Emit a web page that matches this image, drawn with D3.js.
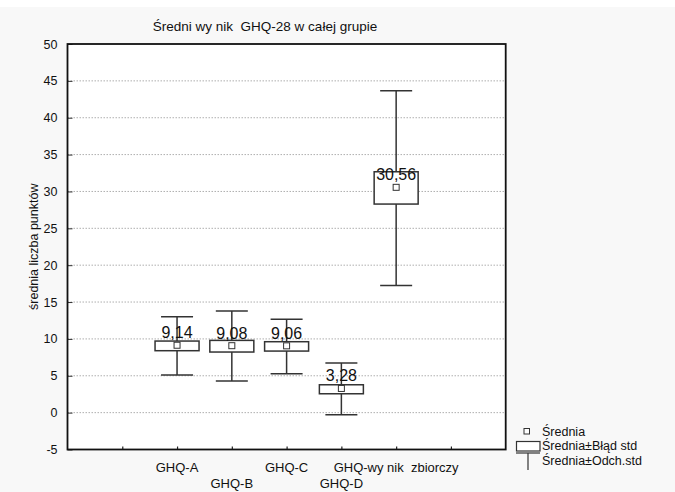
<!DOCTYPE html>
<html><head><meta charset="utf-8">
<script src="https://cdn.jsdelivr.net/npm/d3@7"></script>
<style>html,body{margin:0;padding:0;background:#f8f8f8;}svg{display:block;}</style>
</head><body>
<script>
const categories = ["GHQ-A", "GHQ-B", "GHQ-C", "GHQ-D", "GHQ-wy nik  zbiorczy"];
const positions = [2, 3, 4, 5, 6];
const means = [9.14, 9.08, 9.06, 3.28, 30.56];
const seLow = [8.40, 8.22, 8.35, 2.56, 28.29];
const seHigh = [9.71, 9.80, 9.62, 3.78, 32.67];
const sdLow = [5.10, 4.29, 5.28, -0.28, 17.26];
const sdHigh = [13.00, 13.78, 12.65, 6.73, 43.66];
const meanLabels = ["9,14", "9,08", "9,06", "3,28", "30,56"];
const yTicks = [-5, 0, 5, 10, 15, 20, 25, 30, 35, 40, 45, 50];
const xTickValues = [1, 2, 3, 4, 5, 6, 7];

const W = 675, H = 492;
const L = 67.5, R = 505.7, T = 44, B = 449.5;
const FF = "Arial, 'Liberation Sans', sans-serif";
const svg = d3.select("body").append("svg").attr("width", W).attr("height", H)
  .style("font-family", FF);
svg.append("rect").attr("width", W).attr("height", H).attr("fill", "#f8f8f8");
svg.append("rect").attr("width", W).attr("height", 7).attr("fill", "#ffffff");

const x = d3.scaleLinear().domain([0, 8]).range([L, R]);
const y = d3.scaleLinear().domain([-5, 50]).range([B, T]);

svg.append("rect").attr("x", L).attr("y", T).attr("width", R - L).attr("height", B - T).attr("fill", "#fff");

// gridlines
svg.append("g").selectAll("line").data(yTicks.filter(d => d > -5 && d < 50)).join("line")
  .attr("x1", L).attr("x2", R).attr("y1", d => y(d)).attr("y2", d => y(d))
  .attr("stroke", "#9a9a9a").attr("stroke-width", 0.8).attr("stroke-dasharray", "1.5,1.5");

// y axis
const yAxis = svg.append("g").attr("transform", `translate(${L},0)`)
  .call(d3.axisLeft(y).tickValues(yTicks).tickSize(-5).tickPadding(10).tickFormat(d => d));
yAxis.select(".domain").remove();
yAxis.selectAll(".tick line").attr("stroke", "#333");
yAxis.selectAll("text").attr("font-size", 12.5).attr("fill", "#111").attr("font-family", FF);

// x axis
const xAxis = svg.append("g").attr("transform", `translate(0,${B})`)
  .call(d3.axisBottom(x).tickValues(xTickValues).tickSize(-3).tickFormat(""));
xAxis.select(".domain").remove();
xAxis.selectAll(".tick line").attr("stroke", "#222").attr("stroke-width", 1.2);

// x labels staggered
svg.append("g").selectAll("text").data(categories).join("text")
  .attr("x", (d, i) => x(positions[i]))
  .attr("y", (d, i) => i % 2 === 0 ? 472 : 488)
  .attr("text-anchor", "middle").attr("font-size", 13).attr("fill", "#111")
  .style("white-space", "pre").text(d => d);

// whiskers
const g = svg.append("g");
const capW = 32, boxW = 44;
categories.forEach((c, i) => {
  const cx = x(positions[i]);
  g.append("line").attr("x1", cx).attr("x2", cx).attr("y1", y(sdHigh[i])).attr("y2", y(sdLow[i]))
    .attr("stroke", "#333").attr("stroke-width", 1.5);
  [sdHigh[i], sdLow[i]].forEach(v => {
    g.append("line").attr("x1", cx - capW / 2).attr("x2", cx + capW / 2).attr("y1", y(v)).attr("y2", y(v))
      .attr("stroke", "#333").attr("stroke-width", 1.5);
  });
  g.append("rect").attr("x", cx - boxW / 2).attr("y", y(seHigh[i])).attr("width", boxW)
    .attr("height", y(seLow[i]) - y(seHigh[i])).attr("fill", "#fff").attr("stroke", "#333").attr("stroke-width", 1.5);
  g.append("rect").attr("x", cx - 3).attr("y", y(means[i]) - 3).attr("width", 6).attr("height", 6)
    .attr("fill", "#fff").attr("stroke", "#333").attr("stroke-width", 1);
  g.append("text").attr("x", cx).attr("y", y(means[i]) - 7).attr("text-anchor", "middle")
    .attr("font-size", 16).attr("fill", "#111").text(meanLabels[i]);
});

// frame
svg.append("rect").attr("x", L).attr("y", T).attr("width", R - L).attr("height", B - T)
  .attr("fill", "none").attr("stroke", "#111").attr("stroke-width", 1.8);

// title
svg.append("text").attr("x", 265).attr("y", 30.5).attr("text-anchor", "middle")
  .attr("font-size", 13.5).attr("fill", "#111").style("white-space", "pre").text("Średni wy nik  GHQ-28 w całej grupie");

// y label
svg.append("text").attr("transform", `translate(38,${(T + B) / 2}) rotate(-90)`)
  .attr("text-anchor", "middle").attr("font-size", 12.5).attr("fill", "#111").text("średnia liczba punktów");

// legend
const lg = svg.append("g");
lg.append("rect").attr("x", 524).attr("y", 428.5).attr("width", 5.5).attr("height", 5.5)
  .attr("fill", "#fff").attr("stroke", "#333").attr("stroke-width", 1);
lg.append("text").attr("x", 542).attr("y", 435.5).attr("font-size", 12.5).attr("fill", "#111").text("Średnia");
lg.append("rect").attr("x", 516.5).attr("y", 441.5).attr("width", 23.5).attr("height", 9.5)
  .attr("fill", "#fff").attr("stroke", "#333").attr("stroke-width", 1.2);
lg.append("text").attr("x", 542).attr("y", 450).attr("font-size", 12.5).attr("fill", "#111").text("Średnia±Błąd std");
lg.append("line").attr("x1", 516).attr("x2", 540).attr("y1", 453).attr("y2", 453).attr("stroke", "#333").attr("stroke-width", 1.2);
lg.append("line").attr("x1", 528).attr("x2", 528).attr("y1", 453).attr("y2", 470).attr("stroke", "#333").attr("stroke-width", 1.2);
lg.append("text").attr("x", 542).attr("y", 465).attr("font-size", 12.5).attr("fill", "#111").text("Średnia±Odch.std");
</script>
</body></html>
